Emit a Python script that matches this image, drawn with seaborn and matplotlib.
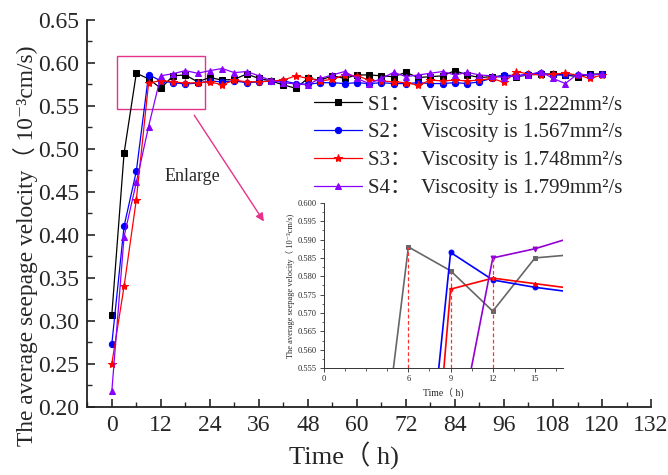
import numpy as np
import pandas as pd
import matplotlib
matplotlib.use('Agg')
import matplotlib.pyplot as plt
from matplotlib.ticker import MultipleLocator, FormatStrFormatter
import seaborn as sns

# Tempo (h), una misura ogni 3 ore
time_h = [0, 3, 6, 9, 12, 15, 18, 21, 24, 27, 30, 33, 36, 39, 42, 45, 48, 51, 54, 57, 60,
          63, 66, 69, 72, 75, 78, 81, 84, 87, 90, 93, 96, 99, 102, 105, 108, 111, 114, 117, 120]

s1 = [0.307, 0.495, 0.588, 0.5815, 0.5705, 0.585, 0.586, 0.578, 0.583, 0.580, 0.581,
      0.587, 0.582, 0.579, 0.5745, 0.5705, 0.582, 0.580, 0.585, 0.582, 0.586,
      0.586, 0.585, 0.584, 0.589, 0.583, 0.584, 0.585, 0.591, 0.586, 0.583,
      0.584, 0.585, 0.584, 0.586, 0.587, 0.587, 0.586, 0.584, 0.587, 0.587]
s2 = [0.273, 0.410, 0.474, 0.5865, 0.579, 0.577, 0.5755, 0.5765, 0.579, 0.578, 0.579,
      0.577, 0.578, 0.579, 0.579, 0.576, 0.575, 0.577, 0.577, 0.576, 0.577,
      0.576, 0.577, 0.576, 0.576, 0.577, 0.576, 0.576, 0.577, 0.576, 0.578,
      0.582, 0.586, 0.585, 0.587, 0.588, 0.586, 0.586, 0.586, 0.586, 0.587]
s3 = [0.250, 0.340, 0.441, 0.5765, 0.5795, 0.578, 0.5765, 0.577, 0.578, 0.5745, 0.580,
      0.578, 0.578, 0.579, 0.580, 0.585, 0.582, 0.579, 0.581, 0.586, 0.585,
      0.580, 0.579, 0.578, 0.577, 0.574, 0.580, 0.579, 0.580, 0.579, 0.580,
      0.582, 0.5775, 0.590, 0.587, 0.586, 0.587, 0.588, 0.586, 0.582, 0.586]
s4 = [0.218, 0.398, 0.461, 0.526, 0.585, 0.5875, 0.591, 0.588, 0.591, 0.5935, 0.5887,
      0.590, 0.585, 0.5795, 0.577, 0.5755, 0.5745, 0.582, 0.586, 0.590, 0.582,
      0.576, 0.582, 0.589, 0.584, 0.586, 0.588, 0.590, 0.586, 0.589, 0.586,
      0.585, 0.583, 0.585, 0.586, 0.590, 0.582, 0.576, 0.587, 0.586, 0.587]

labels = ['S1：  Viscosity is 1.222mm²/s',
          'S2：  Viscosity is 1.567mm²/s',
          'S3：  Viscosity is 1.748mm²/s',
          'S4：  Viscosity is 1.799mm²/s']
series = [s1, s2, s3, s4]
colori = ['black', '#0000ff', '#ff0000', '#8a00ff']
colori_inset = ['#666666', '#0000ff', '#ff0000', '#9400d3']
marcatori = ['s', 'o', '*', '^']
dim_marcatori = [4, 4.5, 6, 5]

# Linee tratteggiate rosse nell'ingrandimento (tempo, serie)
guide_t = [6, 9, 12]
guide_s = [0, 0, 3]

sns.set_theme(style='ticks')
fonts = ['Liberation Serif', 'DejaVu Serif', 'Noto Sans CJK SC']
plt.rcParams['font.family'] = fonts
plt.rcParams['xtick.direction'] = 'in'
plt.rcParams['ytick.direction'] = 'in'

fig = plt.figure(figsize=(6.68, 4.75), dpi=100)
ax = fig.add_axes([0.1307, 0.1438, 0.8439, 0.8142])

for s, lab, c, m, ms in zip(series, labels, colori, marcatori, dim_marcatori):
    sns.lineplot(x=time_h, y=s, ax=ax, color=c, marker=m, markersize=ms,
                 markeredgecolor=c, linewidth=0.9, label=lab)

ax.set_xlim(-6, 132)
ax.set_ylim(0.20, 0.65)
ax.xaxis.set_major_locator(MultipleLocator(12))
ax.xaxis.set_minor_locator(MultipleLocator(6))
ax.yaxis.set_major_locator(MultipleLocator(0.05))
ax.yaxis.set_minor_locator(MultipleLocator(0.025))
ax.yaxis.set_major_formatter(FormatStrFormatter('%.2f'))
ax.tick_params(which='major', length=6, width=1.2, labelsize=17, pad=6)
ax.tick_params(which='minor', length=3.5, width=1.0)
for sp in ['left', 'bottom']:
    ax.spines[sp].set_linewidth(1.3)
    ax.spines[sp].set_color('#222222')
sns.despine(ax=ax)
ax.set_xlabel('Time（ h)', fontsize=19)
ax.xaxis.set_label_coords(0.455, -0.09)
ax.set_ylabel('The average seepage velocity（ 10⁻³cm/s)', fontsize=16.8)
ax.yaxis.set_label_coords(-0.088, 0.415)

ax.legend(loc='upper left', bbox_to_anchor=(0.470, 0.800), bbox_transform=fig.transFigure,
          frameon=False, fontsize=15, handlelength=2.3, handletextpad=0.3,
          labelspacing=0.4, borderpad=0, borderaxespad=0)

# Riquadro e freccia "Enlarge"
rosa = '#e6338a'
ax.add_patch(plt.Rectangle((1.15, 0.5465), 21.75, 0.062, fill=False, edgecolor=rosa, linewidth=1.0))
ax.annotate('', xy=(37.6, 0.4128), xytext=(19.8, 0.5419),
            arrowprops=dict(arrowstyle='-|>', color=rosa, linewidth=1.0, mutation_scale=12))
ax.text(13, 0.4674, 'Enlarge', fontsize=13, va='center', ha='left')

# Grafico ingrandito
ins = fig.add_axes([0.485, 0.225, 0.358, 0.348])
for s, c, m in zip(series, colori_inset, ['s', 'o', '*', 'v']):
    sns.lineplot(x=time_h, y=s, ax=ins, color=c, marker=m, markersize=3.5,
                 markeredgecolor=c, linewidth=1.2, legend=False)
for t, k in zip(guide_t, guide_s):
    v = series[k][time_h.index(t)]
    ins.plot([t, t], [0.555, v], color='#ff3030', linestyle=(0, (3, 2)), linewidth=0.9)
ins.set_xlim(0, 17)
ins.set_ylim(0.555, 0.600)
ins.set_xticks([0, 6, 9, 12, 15])
ins.xaxis.set_minor_locator(MultipleLocator(1.5))
ins.yaxis.set_major_locator(MultipleLocator(0.005))
ins.yaxis.set_minor_locator(MultipleLocator(0.0025))
ins.yaxis.set_major_formatter(FormatStrFormatter('%.3f'))
ins.tick_params(which='major', direction='out', length=3, width=0.6, labelsize=6, pad=2)
ins.tick_params(which='minor', direction='out', length=1.8, width=0.5)
for sp in ['left', 'bottom']:
    ins.spines[sp].set_linewidth(0.7)
    ins.spines[sp].set_color('#333333')
ins.patch.set_alpha(0)
sns.despine(ax=ins)
ins.set_xlabel('Time（ h)', fontsize=7, labelpad=3)
ins.set_ylabel('The average seepage velocity（ 10⁻³cm/s)', fontsize=6, labelpad=2)

fig.savefig('out.png', dpi=100)
